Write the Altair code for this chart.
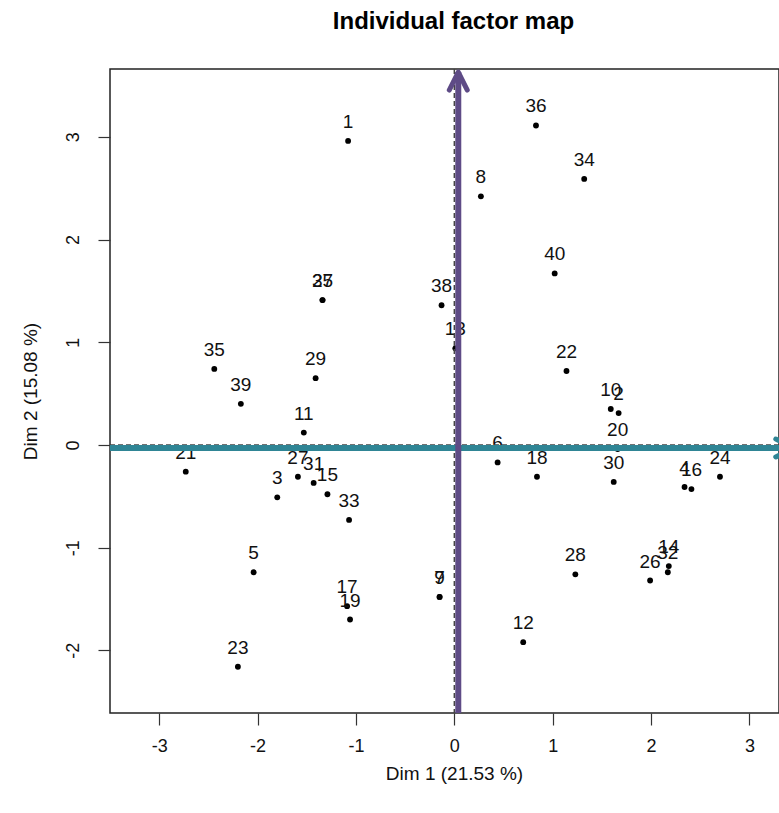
import altair as alt
import pandas as pd

# Individuals (label, Dim 1, Dim 2)
labels = ["1", "2", "3", "4", "5", "6", "7", "8", "9", "10",
          "11", "12", "13", "14", "15", "16", "17", "18", "19", "20",
          "21", "22", "23", "24", "25", "26", "27", "28", "29", "30",
          "31", "32", "33", "34", "35", "36", "37", "38", "39", "40"]
dim1 = [-1.08, 1.67, -1.80, 2.34, -2.04, 0.44, -0.15, 0.27, -0.15, 1.59,
        -1.53, 0.70, 0.01, 2.18, -1.29, 2.41, -1.09, 0.84, -1.06, 1.66,
        -2.73, 1.14, -2.20, 2.70, -1.34, 1.99, -1.59, 1.23, -1.41, 1.62,
        -1.43, 2.17, -1.07, 1.32, -2.44, 0.83, -1.34, -0.13, -2.17, 1.02]
dim2 = [2.96, 0.31, -0.51, -0.41, -1.24, -0.17, -1.48, 2.42, -1.48, 0.35,
        0.12, -1.92, 0.94, -1.18, -0.48, -0.43, -1.57, -0.31, -1.70, -0.04,
        -0.26, 0.72, -2.16, -0.31, 1.41, -1.32, -0.31, -1.26, 0.65, -0.36,
        -0.37, -1.24, -0.73, 2.59, 0.74, 3.11, 1.41, 1.36, 0.40, 1.67]

x_ticks = [-3, -2, -1, 0, 1, 2, 3]
y_ticks = [-2, -1, 0, 1, 2, 3]
x_domain = [-3.50, 3.30]
y_domain = [-2.61, 3.66]

# Arrows (start and tip in Dim coordinates)
arrow_v = {"x": 0.04, "y": -2.61, "x2": 0.04, "y2": 3.63}
arrow_h = {"x": -3.50, "y": -0.03, "x2": 3.45, "y2": -0.03}

df = pd.DataFrame({"label": labels, "d1": dim1, "d2": dim2})
dv = pd.DataFrame([arrow_v])
dh = pd.DataFrame([arrow_h])

FONT = "Liberation Sans"

xs = alt.Scale(domain=x_domain, nice=False, zero=False)
ys = alt.Scale(domain=y_domain, nice=False, zero=False)

xax = alt.Axis(values=x_ticks, labelExpr="'' + datum.value", grid=False, domain=False,
               tickSize=12, tickWidth=1.2, tickColor="#333", labelFontSize=18,
               labelFont=FONT, labelColor="#111", labelPadding=12,
               title="Dim 1 (21.53 %)", titleFont=FONT, titleFontSize=19,
               titleFontWeight="normal", titleColor="#111", titleX=344, titleY=60,
               titleBaseline="middle", titleAlign="center")
yax = alt.Axis(values=y_ticks, labelExpr="'' + datum.value", grid=False, domain=False,
               tickSize=12, tickWidth=1.2, tickColor="#333", labelFontSize=18,
               labelFont=FONT, labelColor="#111", labelAngle=270, labelAlign="center",
               labelBaseline="bottom", labelPadding=16, title="Dim 2 (15.08 %)",
               titleFont=FONT, titleFontSize=19, titleFontWeight="normal",
               titleColor="#111", titleAngle=270, titleX=-80, titleY=322,
               titleBaseline="middle", titleAlign="center")

base = alt.Chart(df)
points = base.mark_circle(size=34, color="black", opacity=1, clip=True).encode(
    x=alt.X("d1:Q", scale=xs, axis=xax),
    y=alt.Y("d2:Q", scale=ys, axis=yax),
)
texts = base.mark_text(dy=-19, fontSize=19, font=FONT, color="#111", clip=True).encode(
    x=alt.X("d1:Q", scale=xs), y=alt.Y("d2:Q", scale=ys), text="label:N"
)

hdash = alt.Chart(pd.DataFrame({"v": [0]})).mark_rule(
    strokeDash=[5, 3], color="#444", strokeWidth=1.5
).encode(y=alt.Y("v:Q", scale=ys))
vdash = alt.Chart(pd.DataFrame({"v": [0]})).mark_rule(
    strokeDash=[5, 3], color="#444", strokeWidth=1.5
).encode(x=alt.X("v:Q", scale=xs))

PURPLE = "#5E4B86"
TEAL = "#2F8595"
chevron = "M-0.5,1L0,0L0.5,1"

vshaft = alt.Chart(dv).mark_rule(color=PURPLE, strokeWidth=6, clip=True).encode(
    x=alt.X("x:Q", scale=xs), y=alt.Y("y:Q", scale=ys), y2="y2:Q"
)
vhead = alt.Chart(dv).mark_point(shape=chevron, filled=False, stroke=PURPLE,
                                 strokeWidth=5, size=1296, opacity=1,
                                 strokeCap="round", strokeJoin="round", clip=True).encode(
    x=alt.X("x2:Q", scale=xs), y=alt.Y("y2:Q", scale=ys)
)
hshaft = alt.Chart(dh).mark_rule(color=TEAL, strokeWidth=6, clip=True).encode(
    x=alt.X("x:Q", scale=xs), x2="x2:Q", y=alt.Y("y:Q", scale=ys)
)
hhead = alt.Chart(dh).mark_point(shape=chevron, filled=False, stroke=TEAL,
                                 strokeWidth=5, size=1296, opacity=1, angle=90,
                                 strokeCap="round", strokeJoin="round", clip=True).encode(
    x=alt.X("x2:Q", scale=xs), y=alt.Y("y2:Q", scale=ys)
)

chart = alt.layer(points, texts, hdash, vdash, hshaft, hhead, vshaft, vhead).properties(
    width=669, height=644,
    title=alt.TitleParams("Individual factor map", font=FONT, fontSize=24,
                          fontWeight="bold", color="#000", anchor="middle",
                          offset=34, dx=9),
    autosize=alt.AutoSizeParams(type="none"),
    padding={"left": 110, "top": 69, "right": 0, "bottom": 100},
    background="white",
).configure_view(stroke="#222", strokeWidth=1.5)

chart.save("out.html", embed_options={"renderer": "svg", "actions": False})
